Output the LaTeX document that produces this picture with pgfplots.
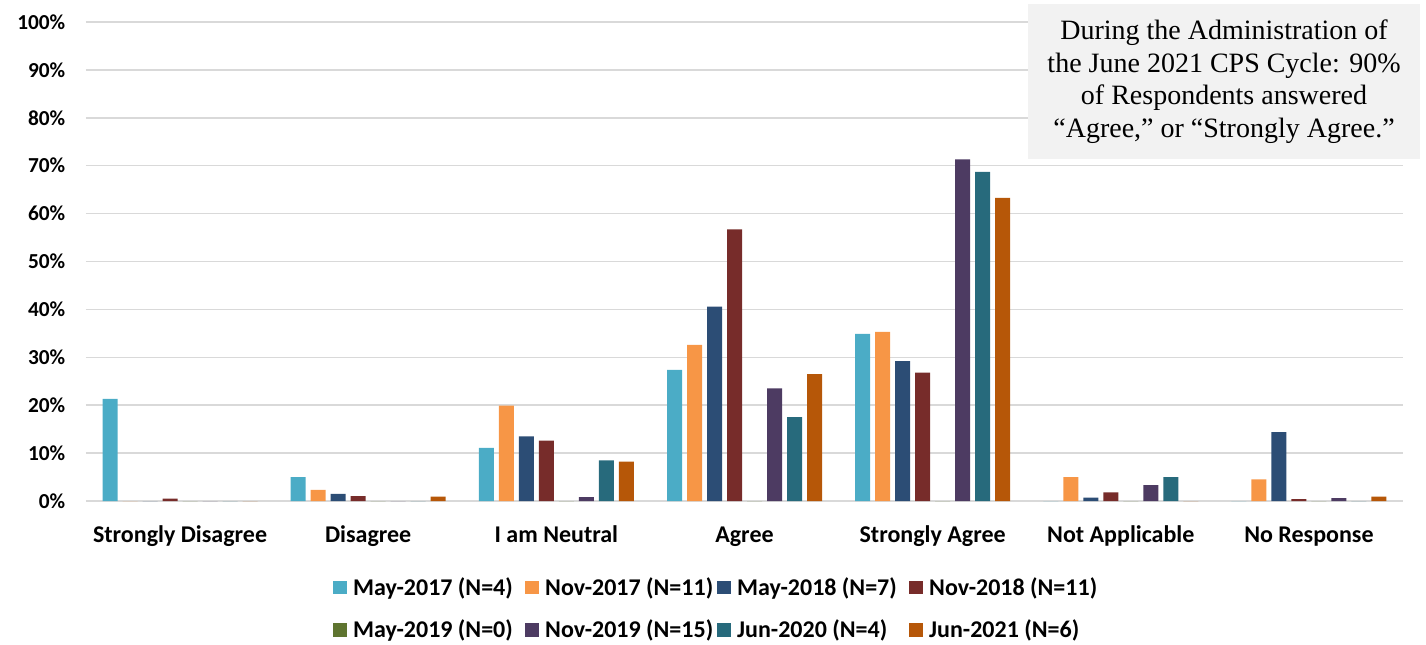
\documentclass[border=0pt]{standalone}
\usepackage{fontspec}
\setmainfont{Carlito}
\newfontfamily\timesfont{Liberation Serif}
\usepackage{pgfplots}
\usepackage{pgfplotstable}
\pgfplotsset{compat=1.18}

\definecolor{cMayA}{HTML}{4BACC6}
\definecolor{cNovA}{HTML}{F79646}
\definecolor{cMayB}{HTML}{2C4D75}
\definecolor{cNovB}{HTML}{772C2A}
\definecolor{cMayC}{HTML}{5F7530}
\definecolor{cNovC}{HTML}{4D3B62}
\definecolor{cJunA}{HTML}{276A7C}
\definecolor{cJunB}{HTML}{B65708}
\definecolor{gridgray}{HTML}{D9D9D9}
\definecolor{boxgray}{HTML}{F2F2F2}

% fixed-width legend cells, as in the original
\newcommand\leg[1]{\makebox[134pt][l]{\hspace{5pt}#1}}

% x: 0 Strongly Disagree ... 6 No Response
\pgfplotstableread{
x  mayA  novA  mayB  novB  mayC  novC  junA  junB
0  21.3  0     0     0.5   0     0     0     0
1  5.0   2.3   1.5   1.0   0     0     0     0.9
2  11.1  19.9  13.5  12.6  0     0.8   8.5   8.2
3  27.4  32.6  40.6  56.7  0     23.5  17.5  26.5
4  34.9  35.3  29.2  26.8  0     71.3  68.7  63.3
5  0     5.0   0.7   1.8   0     3.3   5.0   0
6  0     4.5   14.4  0.4   0     0.6   0     0.9
}\survey

\begin{document}
\begin{tikzpicture}
\begin{axis}[
  scale only axis, width=987.75pt, height=359.25pt,
  ybar=3.75pt, bar width=11.25pt,
  xmin=-0.5, xmax=6.5, ymin=0, ymax=100,
  xtick={0,...,6},
  xticklabels={Strongly Disagree, Disagree, I am Neutral, Agree, Strongly Agree, Not Applicable, No Response},
  ytick={0,10,...,100},
  yticklabel={\pgfmathprintnumber{\tick}\%},
  ymajorgrids, grid style={draw=gridgray, line width=1.1pt},
  axis line style={draw=none}, major tick length=0pt,
  /pgf/number format/assume math mode=true,
  yticklabel style={font=\bfseries\fontsize{16}{19}\selectfont, anchor=east, xshift=-12pt},
  xticklabel style={font=\bfseries\fontsize{18}{21}\selectfont, anchor=base, yshift=-30.75pt},
  legend columns=4,
  legend style={at={(0.1875,-0.160)}, anchor=north west, draw=none, fill=none,
    font=\bfseries\fontsize{18}{21}\selectfont, column sep=0pt, row sep=16.75pt,
    inner sep=0pt, nodes={inner sep=0pt}},
  legend cell align=left,
  legend image code/.code={\fill[#1,draw=none] (0pt,-5pt) rectangle (10pt,5pt);},
  every axis plot/.append style={draw=none},
]
\addplot[fill=cMayA] table[x=x, y=mayA] {\survey};
\addlegendentry{\leg{May-2017 (N=4)}}
\addplot[fill=cNovA] table[x=x, y=novA] {\survey};
\addlegendentry{\leg{Nov-2017 (N=11)}}
\addplot[fill=cMayB] table[x=x, y=mayB] {\survey};
\addlegendentry{\leg{May-2018 (N=7)}}
\addplot[fill=cNovB] table[x=x, y=novB] {\survey};
\addlegendentry{\leg{Nov-2018 (N=11)}}
\addplot[fill=cMayC] table[x=x, y=mayC] {\survey};
\addlegendentry{\leg{May-2019 (N=0)}}
\addplot[fill=cNovC] table[x=x, y=novC] {\survey};
\addlegendentry{\leg{Nov-2019 (N=15)}}
\addplot[fill=cJunA] table[x=x, y=junA] {\survey};
\addlegendentry{\leg{Jun-2020 (N=4)}}
\addplot[fill=cJunB] table[x=x, y=junB] {\survey};
\addlegendentry{\leg{Jun-2021 (N=6)}}
\end{axis}
\node[fill=boxgray, inner sep=0pt, minimum width=294pt, minimum height=116pt,
  align=center, font=\timesfont\fontsize{21}{24.5}\selectfont]
  at (853.5pt,314.6pt)
  {During the Administration of\\the June 2021 CPS Cycle: 90\%\\of Respondents answered\\“Agree,” or “Strongly Agree.”};
\pgfresetboundingbox
\path[use as bounding box] (-64.5pt,-107.25pt) rectangle (1005pt,375.75pt);
\end{tikzpicture}
\end{document}
